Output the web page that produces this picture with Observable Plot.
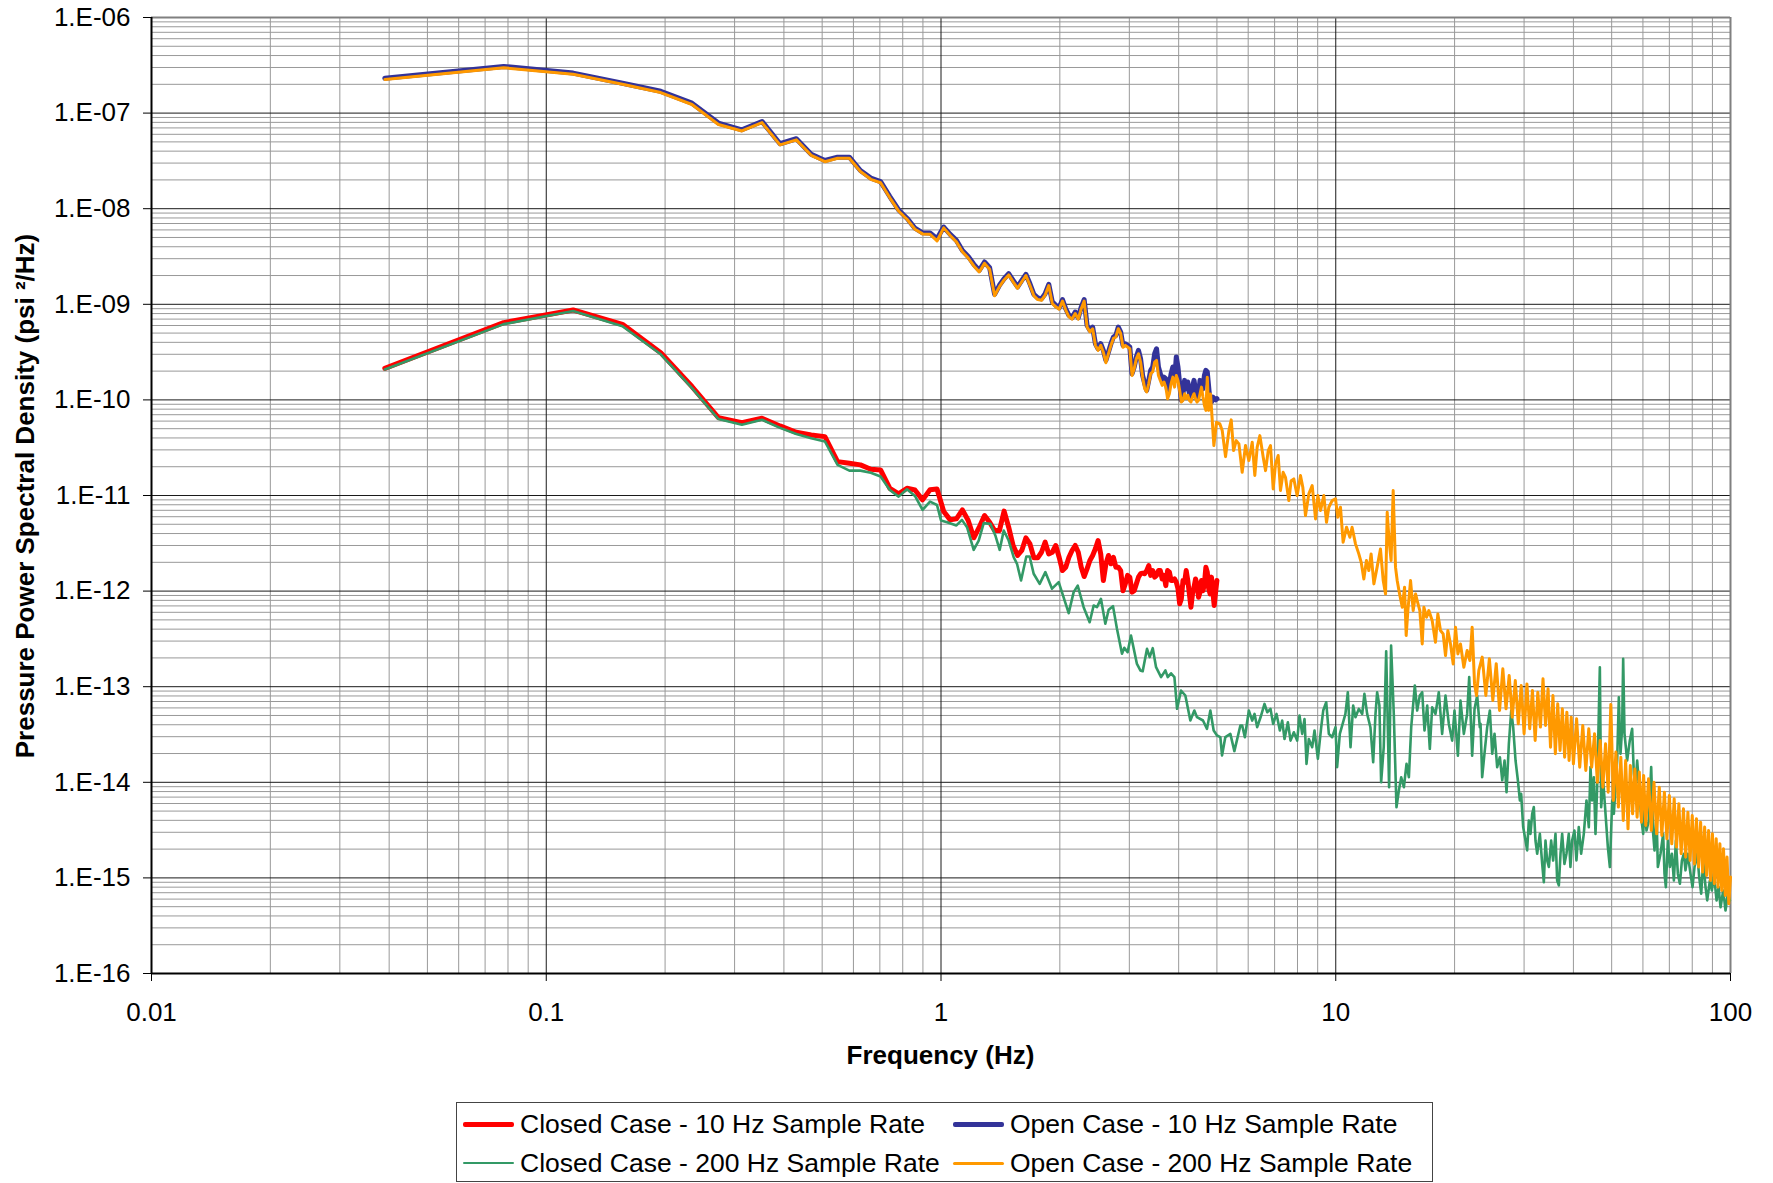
<!DOCTYPE html>
<html><head><meta charset="utf-8">
<script src="https://cdn.jsdelivr.net/npm/d3@7"></script>
<script src="https://cdn.jsdelivr.net/npm/@observablehq/plot@0.6"></script>
<style>
html,body{margin:0;padding:0;background:#fff;}
#wrap{position:relative;width:1773px;height:1183px;font-family:"Liberation Sans",Arial,sans-serif;}
#legend{position:absolute;left:456px;top:1102px;width:977px;height:80px;border:1px solid #444;box-sizing:border-box;background:#fff;}
.item{position:absolute;height:30px;display:flex;align-items:center;font-size:26.5px;color:#000;white-space:nowrap;}
.sw{display:inline-block;width:51px;margin-right:6px;}
</style></head><body><div id="wrap"><div id="chart"></div><div id="legend"></div></div>
<script>
// ---------- DATA ----------
const freq10 = [
0.039,0.078,0.117,0.156,0.195,0.234,0.273,0.313,0.352,0.391,
0.430,0.469,0.508,0.547,0.586,0.625,0.664,0.703,0.742,0.781,
0.820,0.859,0.898,0.938,0.977,1.016,1.055,1.094,1.133,1.172,
1.211,1.250,1.289,1.328,1.367,1.406,1.445,1.484,1.523,1.563,
1.602,1.641,1.680,1.719,1.758,1.797,1.836,1.875,1.914,1.953,
1.992,2.031,2.070,2.109,2.148,2.188,2.227,2.266,2.305,2.344,
2.383,2.422,2.461,2.500,2.539,2.578,2.617,2.656,2.695,2.734,
2.773,2.813,2.852,2.891,2.930,2.969,3.008,3.047,3.086,3.125,
3.164,3.203,3.242,3.281,3.320,3.359,3.398,3.438,3.477,3.516,
3.555,3.594,3.633,3.672,3.711,3.750,3.789,3.828,3.867,3.906,
3.945,3.984,4.023,4.063,4.102,4.141,4.180,4.219,4.258,4.297,
4.336,4.375,4.414,4.453,4.492,4.531,4.570,4.609,4.648,4.688,
4.727,4.766,4.805,4.844,4.883,4.922,4.961,5.000];

const closed10Val = [
2.14e-10,6.43e-10,8.72e-10,6.18e-10,3.12e-10,1.38e-10,6.52e-11,5.78e-11,6.42e-11,5.34e-11,
4.58e-11,4.3e-11,4.13e-11,2.26e-11,2.17e-11,2.09e-11,1.88e-11,1.85e-11,1.19e-11,1.04e-11,
1.19e-11,1.14e-11,9.0e-12,1.15e-11,1.17e-11,6.8e-12,5.56e-12,5.7e-12,7.08e-12,5.48e-12,
3.61e-12,4.66e-12,6.18e-12,5.26e-12,4.3e-12,4.3e-12,6.86e-12,4.66e-12,3.0e-12,2.36e-12,
2.66e-12,3.61e-12,3.12e-12,2.23e-12,2.23e-12,2.55e-12,3.25e-12,2.45e-12,2.55e-12,3.0e-12,
2.26e-12,1.64e-12,1.78e-12,2.26e-12,2.66e-12,3.0e-12,2.55e-12,1.78e-12,1.42e-12,1.71e-12,
2.09e-12,2.36e-12,2.77e-12,3.38e-12,2.45e-12,1.29e-12,1.93e-12,2.36e-12,1.93e-12,2.26e-12,
1.78e-12,1.78e-12,1.64e-12,1.01e-12,1.19e-12,1.46e-12,1.4e-12,9.75e-13,1.01e-12,1.19e-12,
1.4e-12,1.52e-12,1.54e-12,1.52e-12,1.64e-12,1.85e-12,1.46e-12,1.64e-12,1.4e-12,1.46e-12,
1.64e-12,1.64e-12,1.34e-12,1.46e-12,1.14e-12,1.64e-12,1.58e-12,1.29e-12,1.29e-12,1.34e-12,
1.24e-12,1.06e-12,7.36e-13,8.3e-13,1.29e-12,1.24e-12,1.64e-12,1.29e-12,9.36e-13,6.79e-13,
9.36e-13,1.1e-12,1.34e-12,1.19e-12,8.64e-13,9.75e-13,1.29e-12,1.01e-12,1.19e-12,1.78e-12,
1.58e-12,1.06e-12,9.36e-13,1.4e-12,9.75e-13,7.07e-13,9.75e-13,1.29e-12];

const open10Val = [
2.32e-7,3.08e-7,2.62e-7,2.05e-7,1.69e-7,1.27e-7,7.86e-8,6.69e-8,8.18e-8,4.78e-8,
5.39e-8,3.72e-8,3.19e-8,3.46e-8,3.46e-8,2.51e-8,2.09e-8,1.92e-8,1.34e-8,9.7e-9,
7.96e-9,6.25e-9,5.6e-9,5.56e-9,4.86e-9,6.43e-9,5.39e-9,4.66e-9,3.66e-9,3.17e-9,
2.62e-9,2.26e-9,2.77e-9,2.41e-9,1.27e-9,1.58e-9,1.85e-9,2.09e-9,1.78e-9,1.52e-9,
1.78e-9,2.06e-9,1.64e-9,1.27e-9,1.17e-9,1.14e-9,1.29e-9,1.62e-9,1.06e-9,9.75e-10,
9.21e-10,1.12e-9,8.99e-10,7.66e-10,7.24e-10,8.3e-10,7.24e-10,9.36e-10,1.12e-9,6.02e-10,
5.34e-10,5.78e-10,3.87e-10,3.43e-10,3.87e-10,3.3e-10,2.59e-10,3.17e-10,3.87e-10,4.55e-10,
4.73e-10,5.78e-10,5.13e-10,3.72e-10,3.87e-10,3.72e-10,3.57e-10,1.88e-10,2.21e-10,2.81e-10,
3.3e-10,2.7e-10,1.8e-10,1.48e-10,1.26e-10,1.6e-10,2.04e-10,2.21e-10,3.04e-10,3.43e-10,
2.21e-10,1.88e-10,1.6e-10,1.73e-10,1.67e-10,1.26e-10,1.48e-10,1.88e-10,2.21e-10,1.6e-10,
2.81e-10,2.21e-10,1.48e-10,9.89e-11,1.16e-10,1.6e-10,1.31e-10,1.54e-10,1.16e-10,1.07e-10,
1.36e-10,1.6e-10,1.26e-10,1.07e-10,1.16e-10,1.6e-10,1.54e-10,1.31e-10,1.8e-10,2.04e-10,
1.96e-10,1.36e-10,9.5e-11,9.5e-11,1.07e-10,1.03e-10,1.0e-10,1.03e-10];

// Closed case, 200 Hz: first 25 values share freq10, then [frequency, PSD] pairs
const closed200LowVal = [
2.08e-10,6.2e-10,8.5e-10,5.9e-10,3.0e-10,1.33e-10,6.3e-11,5.5e-11,6.2e-11,5.1e-11,
4.4e-11,3.97e-11,3.68e-11,2.09e-11,1.82e-11,1.82e-11,1.73e-11,1.58e-11,1.14e-11,9.73e-12,
1.16e-11,9.89e-12,7.06e-12,8.63e-12,7.96e-12];
const closed200High = [
[1.000,5.48e-12],[1.036,5.26e-12],[1.094,4.86e-12],[1.130,5.56e-12],[1.164,4.66e-12],[1.210,2.70e-12],[1.246,3.38e-12],[1.283,5.14e-12],[1.334,5.05e-12],[1.373,3.82e-12],
[1.408,2.70e-12],[1.442,4.30e-12],[1.484,3.38e-12],[1.528,2.26e-12],[1.558,1.93e-12],[1.595,1.29e-12],[1.645,2.30e-12],[1.677,2.30e-12],[1.717,1.52e-12],[1.778,1.19e-12],
[1.838,1.58e-12],[1.911,1.06e-12],[1.987,1.24e-12],[2.106,5.88e-13],[2.168,9.75e-13],[2.220,1.14e-12],[2.298,6.79e-13],[2.380,4.73e-13],[2.436,7.07e-13],[2.484,6.79e-13],
[2.542,8.30e-13],[2.608,4.55e-13],[2.659,6.37e-13],[2.727,6.96e-13],[2.791,4.03e-13],[2.874,2.21e-13],[2.913,2.55e-13],[2.970,2.30e-13],[3.029,3.43e-13],[3.136,1.73e-13],
[3.199,1.48e-13],[3.243,1.45e-13],[3.326,2.49e-13],[3.378,2.04e-13],[3.439,2.53e-13],[3.506,1.60e-13],[3.610,1.26e-13],[3.702,1.48e-13],[3.753,1.26e-13],[3.826,1.38e-13],
[3.902,1.26e-13],[3.963,5.87e-14],[4.055,9.13e-14],[4.159,8.09e-14],[4.282,4.43e-14],[4.383,5.64e-14],[4.452,4.80e-14],[4.610,4.43e-14],[4.719,3.62e-14],[4.812,5.64e-14],
[4.906,3.48e-14],[5.003,3.09e-14],[5.101,2.97e-14],[5.151,1.91e-14],[5.252,2.97e-14],[5.408,3.21e-14],[5.536,2.12e-14],[5.733,3.93e-14],
[5.794,3.92e-14],[5.885,2.96e-14],[6.025,5.63e-14],[6.143,4.42e-14],[6.227,5.19e-14],[6.324,3.77e-14],[6.449,4.79e-14],[6.600,6.61e-14],[6.704,5.41e-14],[6.835,5.86e-14],
[6.942,4.08e-14],[7.079,5.19e-14],[7.218,3.48e-14],[7.317,4.42e-14],[7.417,2.84e-14],[7.563,4.25e-14],[7.682,2.73e-14],[7.831,3.34e-14],[7.985,2.73e-14],[8.094,4.99e-14],
[8.222,3.21e-14],[8.335,4.60e-14],[8.432,1.56e-14],[8.547,2.84e-14],[8.716,2.33e-14],[8.835,3.48e-14],[9.010,1.76e-14],[9.187,3.77e-14],[9.295,5.63e-14],[9.459,6.88e-14],
[9.605,3.21e-14],[9.793,2.96e-14],[9.986,3.77e-14],[10.08,1.44e-14],[10.24,3.21e-14],[10.44,4.25e-14],[10.58,5.19e-14],[10.73,8.75e-14],[10.90,2.33e-14],[11.07,6.35e-14],
[11.22,4.79e-14],[11.44,5.86e-14],[11.67,5.19e-14],[11.82,8.41e-14],[12.01,5.19e-14],[12.24,3.77e-14],[12.44,1.62e-14],[12.61,5.19e-14],[12.73,8.75e-14],[12.90,6.35e-14],
[13.03,1.00e-14],[13.23,2.33e-14],[13.42,2.35e-13],[13.65,8.88e-15],[13.81,2.69e-13],[14.03,5.19e-14],[14.25,5.48e-15],[14.45,8.19e-15],[14.65,1.13e-14],[14.88,8.88e-15],
[15.11,1.56e-14],[15.32,1.13e-14],[15.53,3.77e-14],[15.86,1.03e-13],[16.08,5.63e-14],[16.33,8.08e-14],[16.56,8.75e-14],[16.78,3.48e-14],[17.05,6.35e-14],[17.31,2.24e-14],
[17.55,6.10e-14],[17.89,5.19e-14],[18.24,8.75e-14],[18.60,3.21e-14],[18.97,8.08e-14],[19.34,4.08e-14],[19.72,2.73e-14],[19.99,5.63e-14],[20.39,1.90e-14],[20.70,7.16e-14],
[21.11,3.21e-14],[21.52,5.19e-14],[21.78,1.26e-13],[22.16,1.90e-14],[22.47,5.86e-14],[22.82,8.08e-14],[23.17,3.77e-14],
[23.27,4.09e-14],[23.49,1.13e-14],[23.81,1.99e-14],[24.19,3.78e-14],[24.57,5.64e-14],[24.91,1.99e-14],[25.25,3.22e-14],[25.64,1.44e-14],[26.05,1.83e-14],[26.41,1.05e-14],
[26.77,1.69e-14],[27.08,7.89e-15],[27.45,2.53e-14],[27.83,5.64e-14],[28.15,3.78e-14],[28.54,1.69e-14],[28.93,1.05e-14],[29.27,6.46e-15],[29.49,7.58e-15],[29.84,3.40e-15],
[30.25,2.46e-15],[30.54,1.94e-15],[30.84,3.99e-15],[31.14,2.89e-15],[31.45,4.68e-15],[31.75,5.50e-15],[32.06,2.46e-15],[32.38,1.79e-15],[32.89,2.89e-15],[33.34,1.40e-15],
[33.66,9.03e-16],[33.99,2.46e-15],[34.32,1.52e-15],[34.66,1.30e-15],[35.13,2.46e-15],[35.54,1.52e-15],[36.03,2.89e-15],[36.38,9.40e-16],[36.74,8.34e-16],[37.10,1.79e-15],
[37.46,2.89e-15],[37.96,1.40e-15],[38.41,1.79e-15],[38.93,2.89e-15],[39.31,1.30e-15],[39.69,2.46e-15],[40.24,3.13e-15],[40.71,1.52e-15],[41.27,3.40e-15],[41.84,1.79e-15],
[42.50,2.89e-15],[43.17,6.46e-15],[43.76,3.40e-15],[44.19,1.44e-14],[44.62,6.46e-15],[45.06,1.13e-14],[45.50,2.89e-15],[45.94,8.90e-15],[46.67,1.60e-13],[47.03,5.50e-15],
[47.59,1.05e-14],[48.24,4.68e-15],[48.90,2.10e-15],[49.48,1.30e-15],[50.15,6.46e-15],[50.64,4.68e-15],[51.13,8.90e-15],[51.63,1.69e-14],[52.13,7.77e-14],[52.65,1.99e-14],
[53.16,3.78e-14],[53.47,1.96e-13],[53.89,3.22e-14],[54.73,1.69e-14],[55.59,2.74e-14],[56.35,3.63e-14],[56.90,1.23e-14],[57.46,8.90e-15],[58.02,1.69e-14],[58.69,8.90e-15],
[59.39,4.32e-15],[60.09,2.89e-15],[60.56,5.50e-15],[61.27,3.13e-15],[62.11,3.99e-15],[62.96,1.44e-14],[63.70,2.89e-15],[64.20,1.94e-15],[64.95,4.68e-15],[65.46,1.30e-15],
[66.48,1.79e-15],[67.52,2.89e-15],[68.05,1.10e-15],[68.59,8.01e-16],[69.39,2.46e-15],[70.21,1.30e-15],[71.04,1.79e-15],[71.87,9.40e-16],[72.72,2.46e-15],[73.57,1.10e-15],
[74.44,8.68e-16],[75.31,1.52e-15],[76.20,1.79e-15],[76.91,1.20e-15],[77.96,1.79e-15],[79.19,1.10e-15],[80.12,8.01e-16],[81.06,1.30e-15],[82.35,1.79e-15],[83.32,1.02e-15],
[84.30,6.82e-16],[85.29,1.52e-15],[86.45,8.01e-16],[87.30,5.81e-16],[88.68,9.40e-16],[89.71,7.39e-16],[90.77,1.10e-15],[92.20,5.81e-16],[93.27,8.01e-16],[94.37,4.94e-16],
[95.83,7.39e-16],[97.14,4.56e-16],[98.47,6.82e-16],[99.63,5.81e-16]];

// Open case, 200 Hz: first 122 values share freq10, then [frequency, PSD] pairs
const open200LowVal = [
2.25e-7,2.98e-7,2.55e-7,2.0e-7,1.64e-7,1.23e-7,7.6e-8,6.5e-8,7.95e-8,4.65e-8,
5.25e-8,3.62e-8,3.1e-8,3.37e-8,3.37e-8,2.45e-8,2.03e-8,1.87e-8,1.3e-8,9.45e-9,
7.75e-9,6.1e-9,5.45e-9,5.4e-9,4.6e-9,6.3e-9,5.25e-9,4.5e-9,3.55e-9,3.05e-9,
2.52e-9,2.18e-9,2.68e-9,2.33e-9,1.23e-9,1.53e-9,1.8e-9,2.03e-9,1.72e-9,1.47e-9,
1.72e-9,2.0e-9,1.58e-9,1.23e-9,1.12e-9,1.1e-9,1.25e-9,1.57e-9,1.02e-9,9.4e-10,
8.9e-10,1.08e-9,8.7e-10,7.4e-10,7.0e-10,8.0e-10,7.0e-10,9.0e-10,1.08e-9,5.8e-10,
5.15e-10,5.55e-10,3.72e-10,3.3e-10,3.72e-10,3.15e-10,2.45e-10,3.05e-10,3.72e-10,4.4e-10,
4.55e-10,5.55e-10,4.95e-10,3.55e-10,3.72e-10,3.57e-10,3.43e-10,1.8e-10,2.12e-10,2.7e-10,
3.04e-10,2.49e-10,1.73e-10,1.31e-10,1.21e-10,1.48e-10,1.88e-10,1.96e-10,2.49e-10,2.59e-10,
1.8e-10,1.6e-10,1.42e-10,1.54e-10,1.36e-10,1.03e-10,1.16e-10,1.48e-10,1.73e-10,1.36e-10,
1.8e-10,1.6e-10,1.26e-10,9.5e-11,9.89e-11,1.16e-10,1.03e-10,1.12e-10,9.89e-11,9.5e-11,
1.07e-10,1.16e-10,1.03e-10,9.5e-11,9.89e-11,1.16e-10,1.36e-10,1.07e-10,8.77e-11,7.77e-11,
1.73e-10,7.77e-11];
const open200High = [
[4.817,1.155e-10],[4.912,3.33e-11],[4.988,5.84e-11],[5.087,5.61e-11],[5.157,4.78e-11],[5.258,2.55e-11],[5.362,4.78e-11],[5.435,6.18e-11],[5.510,2.95e-11],[5.597,3.75e-11],
[5.684,3.47e-11],[5.794,1.75e-11],[5.908,3.33e-11],[6.025,2.32e-11],[6.143,3.61e-11],[6.237,1.62e-11],[6.324,3.20e-11],[6.424,4.23e-11],[6.550,2.51e-11],[6.640,1.82e-11],
[6.745,2.95e-11],[6.835,3.33e-11],[6.942,1.17e-11],[7.037,2.14e-11],[7.148,2.62e-11],[7.244,1.13e-11],[7.358,1.75e-11],[7.459,1.55e-11],[7.605,8.85e-12],[7.709,1.43e-11],
[7.831,1.49e-11],[7.985,9.98e-12],[8.141,1.62e-11],[8.252,1.22e-11],[8.382,6.17e-12],[8.547,1.04e-11],[8.716,1.27e-11],[8.888,5.69e-12],[9.010,9.98e-12],[9.150,6.96e-12],
[9.329,9.98e-12],[9.476,5.25e-12],[9.605,7.54e-12],[9.793,8.85e-12],[9.986,9.21e-12],[10.12,5.93e-12],[10.28,7.54e-12],[10.44,3.24e-12],[10.65,4.66e-12],[10.86,3.66e-12],
[11.00,4.66e-12],[11.22,3.12e-12],[11.44,2.45e-12],[11.60,2.00e-12],[11.78,1.34e-12],[11.96,2.09e-12],[12.13,1.64e-12],[12.29,2.45e-12],[12.49,1.19e-12],[12.73,1.78e-12],
[12.98,2.76e-12],[13.19,1.29e-12],[13.37,9.35e-13],[13.50,6.68e-12],[13.65,3.38e-12],[13.81,2.09e-12],[13.98,1.13e-11],[14.17,1.78e-12],[14.31,1.29e-12],[14.51,9.35e-13],
[14.74,6.78e-13],[14.94,1.10e-12],[15.08,3.43e-13],[15.23,6.26e-13],[15.47,1.29e-12],[15.71,6.26e-13],[15.93,9.35e-13],[16.08,7.96e-13],[16.33,6.26e-13],[16.56,2.80e-13],
[16.72,6.78e-13],[16.98,5.33e-13],[17.21,6.26e-13],[17.55,4.92e-13],[17.89,2.92e-13],[18.14,5.77e-13],[18.42,3.87e-13],[18.71,3.57e-13],[18.97,2.12e-13],[19.23,3.87e-13],
[19.53,2.80e-13],[19.84,1.73e-13],[20.11,4.19e-13],[20.39,2.20e-13],[20.70,2.80e-13],[21.11,1.60e-13],[21.52,2.39e-13],[21.87,1.88e-13],[22.16,4.19e-13],[22.47,1.07e-13],
[22.73,8.08e-14],[23.04,1.48e-13],
[23.5,2.04e-13],[24,8.10e-14],[24.5,1.96e-13],[25,7.18e-14],[25.5,1.74e-13],[26,5.64e-14],[26.5,1.54e-13],[27,5.87e-14],[27.5,1.31e-13],[28,4.80e-14],
[28.5,1.16e-13],[29,4.09e-14],[29.5,1.03e-13],[30,3.22e-14],[30.5,1.07e-13],[31,3.63e-14],[31.5,9.13e-14],[32,2.74e-14],[32.5,8.77e-14],[33,3.78e-14],
[33.5,1.21e-13],[34,3.93e-14],[34.5,9.51e-14],[35,2.33e-14],[35.5,8.10e-14],[36,1.99e-14],[36.5,6.62e-14],[37,2.15e-14],[37.5,5.87e-14],[38,1.83e-14],
[38.5,5.42e-14],[39,1.69e-14],[39.5,4.80e-14],[40,1.56e-14],[40.75,4.61e-14],[41.5,1.44e-14],[42.25,3.93e-14],[43,1.33e-14],[43.75,3.63e-14],[44.5,1.44e-14],
[45.25,3.22e-14],[46,1.00e-14],[46.75,2.74e-14],[47.5,8.90e-15],[48.25,2.53e-14],[49,7.89e-15],[49.75,6.52e-14],[50.5,6.46e-15],[51.25,2.07e-14],[52,5.50e-15],
[52.75,1.83e-14],[53.5,3.99e-15],[54.25,1.69e-14],[55,3.26e-15],[55.75,1.50e-14],[56.5,4.68e-15],[57.25,1.38e-14],[58,4.32e-15],[58.75,1.28e-14],[59.5,3.83e-15],
[60.25,1.18e-14],[61,3.54e-15],[62,1.09e-14],[63,3.13e-15],[64,1.00e-14],[65,2.89e-15],[66,8.90e-15],[67,2.78e-15],[68,7.89e-15],[69,2.56e-15],
[70,7.28e-15],[71,2.27e-15],[72,6.72e-15],[73,2.10e-15],[74,5.96e-15],[75,1.79e-15],[76,5.28e-15],[77,1.65e-15],[78,4.87e-15],[79,1.52e-15],
[80,4.50e-15],[81,1.40e-15],[82,4.15e-15],[83,1.30e-15],[84,3.83e-15],[85,1.15e-15],[86,3.40e-15],[87,1.06e-15],[88,3.13e-15],[89,9.40e-16],
[90,2.89e-15],[91,8.68e-16],[92,2.56e-15],[93,8.01e-16],[94,2.27e-15],[95,7.39e-16],[96,2.02e-15],[97,6.55e-16],[98,1.65e-15],[99,5.36e-16],[100,1.02e-15]];

const xTicks = [0.01, 0.1, 1, 10, 100];
const yTicks = [1e-16,1e-15,1e-14,1e-13,1e-12,1e-11,1e-10,1e-9,1e-8,1e-7,1e-6];
const seriesNames = ["Closed Case - 10 Hz Sample Rate","Open Case - 10 Hz Sample Rate","Closed Case - 200 Hz Sample Rate","Open Case - 200 Hz Sample Rate"];
const xTitle = "Frequency (Hz)";
const yTitle = "Pressure Power Spectral Density (psi \u00B2/Hz)";

// ---------- BUILD ----------
const closed10 = freq10.map((f, i) => ({f, v: closed10Val[i]}));
const open10 = freq10.map((f, i) => ({f, v: open10Val[i]}));
const closed200 = closed200LowVal.map((v, i) => ({f: freq10[i], v})).concat(closed200High.map(([f, v]) => ({f, v})));
const open200 = open200LowVal.map((v, i) => ({f: freq10[i], v})).concat(open200High.map(([f, v]) => ({f, v})));

const minorX = [], minorY = [];
for (let e = -2; e < 2; e++) for (let m = 2; m <= 9; m++) minorX.push(m * Math.pow(10, e));
for (let e = -16; e < -6; e++) for (let m = 2; m <= 9; m++) minorY.push(m * Math.pow(10, e));

const colors = ["#ff0000", "#333399", "#339966", "#ff9900"];
const widths = [5, 5, 2.6, 3];

const fmtY = d => { const e = Math.round(Math.log10(d)); return "1.E" + (e < 0 ? "-" : "+") + String(Math.abs(e)).padStart(2, "0"); };

const chart = Plot.plot({
  width: 1773, height: 1090,
  marginLeft: 151, marginRight: 43, marginTop: 17, marginBottom: 117,
  style: {fontFamily: '"Liberation Sans", Arial, sans-serif', fontSize: "26px", color: "#000", background: "#fff", overflow: "visible"},
  x: {type: "log", domain: [0.01, 100]},
  y: {type: "log", domain: [1e-16, 1e-6]},
  marks: [
    Plot.ruleX(minorX, {stroke: "#999", strokeWidth: 1}),
    Plot.ruleY(minorY, {stroke: "#999", strokeWidth: 1}),
    Plot.ruleX(xTicks, {stroke: "#1a1a1a", strokeWidth: 1}),
    Plot.ruleY(yTicks, {stroke: "#1a1a1a", strokeWidth: 1}),
    Plot.ruleY([1e-6], {stroke: "#808080", strokeWidth: 2}),
    Plot.ruleX([100], {stroke: "#808080", strokeWidth: 2}),
    Plot.line(closed10, {x: "f", y: "v", stroke: colors[0], strokeWidth: widths[0]}),
    Plot.line(open10, {x: "f", y: "v", stroke: colors[1], strokeWidth: widths[1]}),
    Plot.line(closed200, {x: "f", y: "v", stroke: colors[2], strokeWidth: widths[2]}),
    Plot.line(open200, {x: "f", y: "v", stroke: colors[3], strokeWidth: widths[3]}),
    Plot.ruleX([0.01], {stroke: "#000", strokeWidth: 2}),
    Plot.ruleY([1e-16], {stroke: "#000", strokeWidth: 2}),
    Plot.axisY({ticks: yTicks, tickFormat: fmtY, tickSize: 8, tickPadding: 13, label: null, fontSize: 26}),
    Plot.axisX({ticks: xTicks, tickFormat: d => String(d), tickSize: 8, tickPadding: 21, label: null, fontSize: 26})
  ]
});
document.getElementById("chart").appendChild(chart);

const svg = d3.select(chart);
svg.append("text").attr("x", 940.5).attr("y", 1055).attr("text-anchor", "middle").attr("dominant-baseline", "central")
  .style("font-weight", "bold").style("font-size", "26px").attr("fill", "#000").text(xTitle);
svg.append("text").attr("transform", "translate(25,496) rotate(-90)").attr("text-anchor", "middle").attr("dominant-baseline", "central")
  .style("font-weight", "bold").style("font-size", "26px").attr("fill", "#000").text(yTitle);

// Legend
const legend = document.getElementById("legend");
const pos = [[6, 6], [496, 6], [6, 45], [496, 45]];
seriesNames.forEach((name, i) => {
  const it = document.createElement("div");
  it.className = "item";
  it.style.left = pos[i][0] + "px";
  it.style.top = pos[i][1] + "px";
  const sw = document.createElement("span");
  sw.className = "sw";
  sw.style.height = widths[i] + "px";
  sw.style.background = colors[i];
  sw.style.borderRadius = "2px";
  const tx = document.createElement("span");
  tx.textContent = name;
  it.appendChild(sw); it.appendChild(tx);
  legend.appendChild(it);
});
</script></body></html>
